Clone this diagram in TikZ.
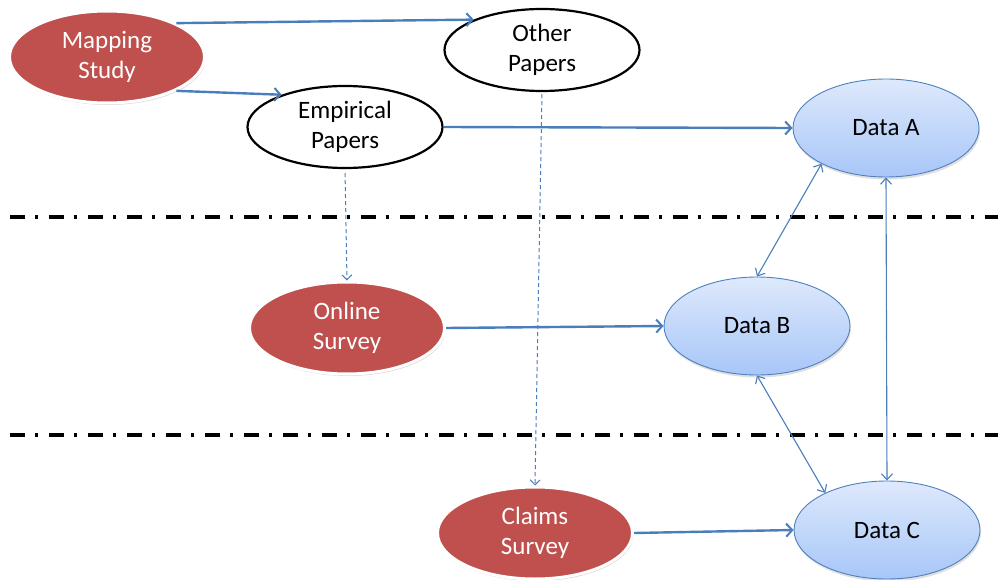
\documentclass[tikz,border=0pt]{standalone}
\usepackage{fontspec}
\setmainfont{Carlito}
\usetikzlibrary{shapes.geometric,arrows.meta,shadows}

\definecolor{srcred}{HTML}{C0504D}
\definecolor{linkblue}{HTML}{4A7EBB}
\definecolor{datatop}{HTML}{DEE9FC}
\definecolor{databot}{HTML}{A7C6F8}
\definecolor{dataedge}{HTML}{4F81BD}

\tikzset{
  lbl/.style={font=\fontsize{25}{30}\selectfont, align=center, inner sep=0pt},
  source/.style={lbl, ellipse, fill=srcred, draw=white, line width=3pt, text=white,
    minimum width=195pt, minimum height=92pt,
    drop shadow={opacity=0.3, shadow xshift=1pt, shadow yshift=-2pt}},
  paper/.style={lbl, ellipse, fill=white, draw=black, line width=2.2pt,
    minimum width=195pt, minimum height=82pt},
  dataset/.style={lbl, ellipse, top color=datatop, bottom color=databot,
    draw=dataedge, line width=0.9pt, minimum width=186pt, minimum height=98pt,
    drop shadow={opacity=0.25, shadow xshift=1pt, shadow yshift=-2.5pt}},
  flow/.style={draw=linkblue, line width=2.4pt,
    -{Straight Barb[length=6pt,width=13pt,line width=2pt]}},
  trace/.style={draw=linkblue, line width=1pt, dash pattern=on 4pt off 3pt,
    -{Straight Barb[length=5pt,width=10pt,line width=1pt]}},
  link/.style={draw=linkblue, line width=1.1pt,
    {Straight Barb[length=6pt,width=11pt,line width=1.1pt]}-{Straight Barb[length=6pt,width=11pt,line width=1.1pt]}},
  divider/.style={draw=black, line width=3.5pt,
    dash pattern=on 15pt off 10pt on 3pt off 11pt}
}

\begin{document}
\begin{tikzpicture}[x=1pt,y=-1pt]
  \useasboundingbox (0,0) rectangle (998,580);

  % phase dividers
  \coordinate (d1l) at (10,217);
  \coordinate (d1r) at (998,217);
  \coordinate (d2l) at (10,435);
  \coordinate (d2r) at (998,435);
  \draw[divider] (d1l) -- (d1r);
  \draw[divider] (d2l) -- (d2r);

  % sources
  \node[source] (ms) at (107,57) {Mapping\\Study};
  \node[paper]  (op) at (542,50) {Other\\Papers};
  \node[paper]  (ep) at (345,127) {Empirical\\Papers};
  \node[source] (os) at (347,328) {Online\\Survey};
  \node[source] (cs) at (535,533) {Claims\\Survey};

  % data sets
  \node[dataset] (da) at (886,128) {Data A};
  \node[dataset] (db) at (757,326) {Data B};
  \node[dataset] (dc) at (887,530) {Data C};

  % flows
  \draw[flow] (ms.26) -- (op.156);
  \draw[flow] (ms.-26) -- (ep.153);
  \draw[flow] (ep.east) -- (da.west);
  \draw[flow] (os.east) -- (db.west);
  \draw[flow] (cs.east) -- (dc.west);

  \draw[trace, shorten <=4pt] (ep.south) -- (os.north);
  \draw[trace, shorten <=2pt] (op.south) -- (cs.north);

  % links between data sets
  \draw[link] (da.209) -- (db.north);
  \draw[link] (da.south) -- (dc.north);
  \draw[link] (db.south) -- (dc.149);
\end{tikzpicture}
\end{document}
